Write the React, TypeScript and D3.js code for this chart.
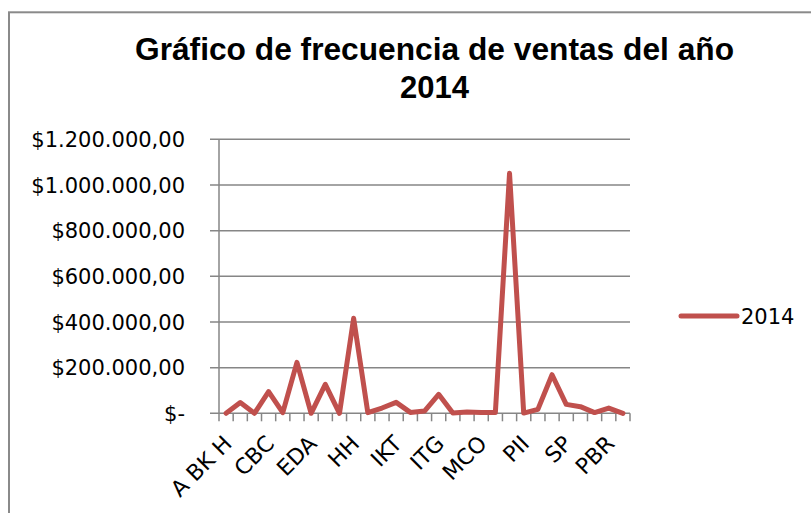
import React from "react";
import * as d3 from "d3";

const categories = [
  "A BK H", "ABT", "BRC", "CBC", "CDM", "DLS", "EDA", "EMG", "GLF", "HH",
  "HPR", "ICS", "IKT", "INP", "IRM", "ITG", "KLM", "LTR", "MCO", "MGR",
  "NVS", "PII", "PLT", "RCT", "SP", "SRV", "TCN", "PBR", "ZTA",
];
const values2014 = [
  0, 47000, 0, 95000, 3000, 223000, 0, 127000, 0, 416000,
  3000, 23000, 48000, 4000, 10000, 83000, 1000, 6000, 3000, 3000,
  1051000, 1000, 17000, 169000, 39000, 29000, 3000, 23000, 0,
];
const labelEvery = 3;
const yTicks = [0, 200000, 400000, 600000, 800000, 1000000, 1200000];
const seriesName = "2014";
const titleLines = ["Gráfico de frecuencia de ventas del año", "2014"];

const W = 811;
const H = 513;
const plot = { left: 219, right: 630, top: 139.3, bottom: 413.3 };
const lineColor = "#C0504D";
const gridColor = "#868686";
const font = "'DejaVu Sans', sans-serif";

function fmt(v: number): string {
  if (v === 0) return "$-";
  const s = d3.format(",.2f")(v);
  return "$" + s.replace(/,/g, "#").replace(".", ",").replace(/#/g, ".");
}

export default function App() {
  const x = d3
    .scaleBand<string>()
    .domain(categories)
    .range([plot.left, plot.right])
    .padding(0);
  const y = d3.scaleLinear().domain([0, 1200000]).range([plot.bottom, plot.top]);
  const cx = (c: string) => (x(c) as number) + x.bandwidth() / 2;

  const line = d3
    .line<number>()
    .x((_, i) => cx(categories[i]))
    .y((d) => y(d));

  const boundaries = categories.map((c) => x(c) as number).concat([plot.right]);

  return (
    <svg
      width={W}
      height={H}
      style={{ position: "absolute", left: 0, top: 0, background: "#fff" }}
    >
      <rect x={0} y={0} width={W} height={H} fill="#fff" />
      <rect
        x={9}
        y={12.3}
        width={W + 20}
        height={H + 20}
        fill="#fff"
        stroke="#8a8a8a"
        strokeWidth={2}
      />
      <text
        x={434.5}
        y={60}
        textAnchor="middle"
        fontFamily="'Liberation Sans', Arial, sans-serif"
        fontWeight="bold"
        fontSize={31}
        textLength={599}
        lengthAdjust="spacingAndGlyphs"
        fill="#000"
      >
        {titleLines[0]}
      </text>
      <text
        x={434.5}
        y={98}
        textAnchor="middle"
        fontFamily="'Liberation Sans', Arial, sans-serif"
        fontWeight="bold"
        fontSize={31}
        fill="#000"
      >
        {titleLines[1]}
      </text>

      {yTicks.map((t) => (
        <g key={t}>
          <line
            x1={plot.left - 9}
            x2={plot.right}
            y1={y(t)}
            y2={y(t)}
            stroke={gridColor}
            strokeWidth={1.5}
          />
          <text
            x={185}
            y={y(t)}
            dy="0.36em"
            textAnchor="end"
            fontFamily={font}
            fontSize={21}
            fill="#000"
          >
            {fmt(t)}
          </text>
        </g>
      ))}
      <line
        x1={plot.left}
        x2={plot.left}
        y1={plot.top}
        y2={plot.bottom}
        stroke={gridColor}
        strokeWidth={1.5}
      />
      {boundaries.map((b, i) => (
        <line
          key={i}
          x1={b}
          x2={b}
          y1={plot.bottom}
          y2={plot.bottom + 8}
          stroke={gridColor}
          strokeWidth={1.5}
        />
      ))}
      {categories.map((c, i) =>
        i % labelEvery === 0 ? (
          <text
            key={c}
            transform={`translate(${cx(c) + 7},${445}) rotate(-45)`}
            textAnchor="end"
            fontFamily={font}
            fontSize={22}
            fill="#000"
          >
            {c}
          </text>
        ) : null
      )}
      <path
        d={line(values2014) || ""}
        fill="none"
        stroke={lineColor}
        strokeWidth={5}
        strokeLinejoin="round"
        strokeLinecap="round"
      />
      <line
        x1={681}
        x2={737}
        y1={316}
        y2={316}
        stroke={lineColor}
        strokeWidth={5}
        strokeLinecap="round"
      />
      <text x={741} y={323.5} fontFamily={font} fontSize={21} fill="#000">
        {seriesName}
      </text>
    </svg>
  );
}
